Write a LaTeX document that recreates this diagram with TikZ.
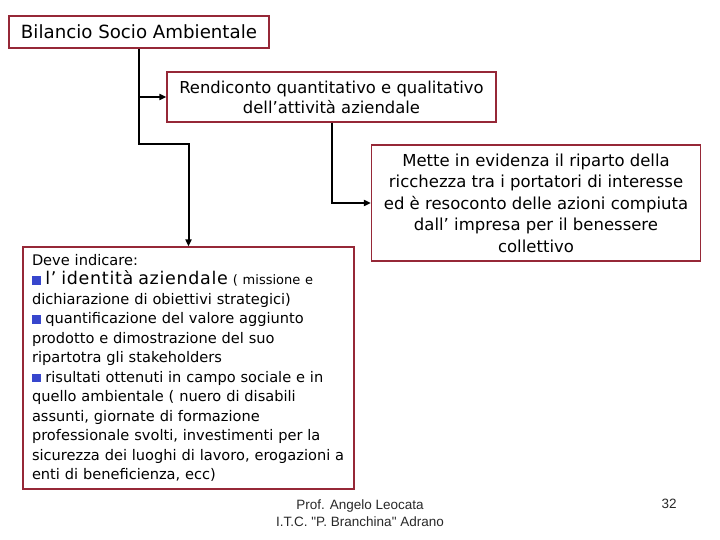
\documentclass[tikz,border=0pt]{standalone}
\usepackage{fontspec}
\setmainfont{DejaVu Sans}
\newfontfamily\footfont{Liberation Sans}
\usetikzlibrary{arrows.meta, positioning}
\definecolor{boxred}{RGB}{150,40,55}
\definecolor{bulletblue}{RGB}{55,70,205}
\definecolor{footgray}{RGB}{40,40,40}
\newcommand{\bulsq}{\textcolor{bulletblue}{\rule{8.5pt}{8.5pt}}\ }
\tikzset{
  block/.style={rectangle, draw=boxred, fill=white, line width=1.2pt,
    inner sep=0pt, align=center},
  arrow/.style={-{Triangle[length=7pt,width=6pt]}, line width=2pt, color=black},
  foot/.style={font=\footfont\fontsize{13.5}{17.5}\selectfont, color=footgray, align=center}
}

\begin{document}
\begin{tikzpicture}[x=1pt, y=-1pt]
  \useasboundingbox (0,0) rectangle (720,540);
  % ── boxes ───────────────────────────────────────────────────────────────
  \node[block, minimum width=260pt, minimum height=32pt,
    font=\fontsize{18.2}{20}\selectfont] (bil) at (139,32) {Bilancio Socio Ambientale};
  \node[block, minimum width=329pt, minimum height=50pt,
    font=\fontsize{16.4}{20}\selectfont] (rend) at (331.5,97)
    {Rendiconto quantitativo e qualitativo\\dell’attività aziendale};
  \node[block, minimum width=329pt, minimum height=116pt,
    font=\fontsize{16.5}{21.5}\selectfont] (ment) at (536,203)
    {Mette in evidenza il riparto della\\ricchezza tra i portatori di interesse\\
     ed è resoconto delle azioni compiuta\\dall’ impresa per il benessere\\collettivo};
  \node[block, minimum width=331pt, minimum height=242pt, text width=313pt,
    align=left, inner xsep=9pt, font=\fontsize{14.6}{19.5}\selectfont] (dev) at (188.5,368)
    {Deve indicare:\\
     \bulsq{\fontsize{17.5}{19.5}\selectfont\addfontfeature{LetterSpace=4}l’ identità aziendale}
     {\fontsize{13}{19.5}\selectfont( missione e}\\
     dichiarazione di obiettivi strategici)\\
     \bulsq quantificazione del valore aggiunto\\
     prodotto e dimostrazione del suo\\
     ripartotra gli stakeholders\\
     \bulsq risultati ottenuti in campo sociale e in\\
     quello ambientale ( nuero di disabili\\
     assunti, giornate di formazione\\
     professionale svolti, investimenti per la\\
     sicurezza dei luoghi di lavoro, erogazioni a\\
     enti di beneficienza, ecc)};
  % ── connectors ──────────────────────────────────────────────────────────
  \coordinate (split) at (139,144);
  \draw[arrow] (bil.south) -- (split) -| (dev.north);
  \draw[arrow] (bil.south |- rend.west) -- (rend.west);
  \draw[arrow] (rend.south) |- (ment.west);
  % ── footer ──────────────────────────────────────────────────────────────
  \node[foot] (prof) at (360,513) {Prof. Angelo Leocata\\I.T.C. "P. Branchina" Adrano};
  \node[foot] (page) at (669,504) {32};
\end{tikzpicture}
\end{document}
